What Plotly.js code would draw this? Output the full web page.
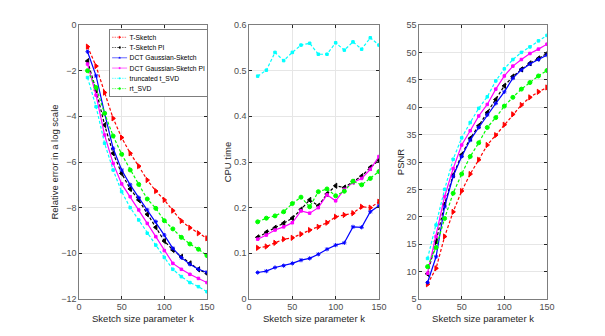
<!DOCTYPE html>
<html>
<head>
<meta charset="utf-8">
<script src="https://cdn.plot.ly/plotly-3.0.1.min.js"></script>
<style>
  html, body { margin: 0; padding: 0; background: #fff; }
  #graph { width: 605px; height: 336px; }
</style>
</head>
<body>
<div id="graph"></div>
<script>
const kValues = [10, 20, 30, 40, 50, 60, 70, 80, 90, 100, 110, 120, 130, 140, 150];

// relative error (log scale)
const errTSketch   = [-0.95, -1.8, -2.96, -4.09, -4.93, -5.62, -6.18, -6.79, -7.27, -7.66, -8.13, -8.58, -8.88, -9.12, -9.34];
const errTSketchPI = [-1.58, -2.85, -4.38, -5.62, -6.5, -7.18, -7.66, -8.29, -8.86, -9.46, -9.85, -10.15, -10.44, -10.7, -10.88];
const errDCT       = [-1.17, -2.23, -3.87, -5.4, -6.35, -7.0, -7.56, -8.1, -8.61, -9.2, -9.78, -10.19, -10.48, -10.7, -10.83];
const errDCTPI     = [-1.71, -3.07, -4.82, -6.06, -6.96, -7.52, -8.1, -8.69, -9.27, -9.88, -10.44, -10.7, -10.92, -11.1, -11.28];
const errTSVD      = [-2.3, -3.58, -5.18, -6.35, -7.3, -8.0, -8.54, -9.12, -9.64, -10.18, -10.7, -11.02, -11.28, -11.46, -11.68];
const errRTSVD     = [-2.0, -2.74, -3.87, -4.86, -5.66, -6.35, -6.98, -7.62, -8.03, -8.57, -8.93, -9.3, -9.59, -9.82, -10.1];

// CPU time
const cpuTSketch   = [0.112, 0.115, 0.123, 0.131, 0.134, 0.142, 0.151, 0.158, 0.167, 0.18, 0.184, 0.188, 0.202, 0.2, 0.213];
const cpuTSketchPI = [0.135, 0.146, 0.156, 0.166, 0.177, 0.196, 0.217, 0.204, 0.23, 0.248, 0.244, 0.257, 0.269, 0.288, 0.304];
const cpuDCT       = [0.058, 0.061, 0.069, 0.073, 0.078, 0.085, 0.089, 0.098, 0.109, 0.118, 0.123, 0.158, 0.157, 0.191, 0.204];
const cpuDCTPI     = [0.131, 0.14, 0.151, 0.158, 0.167, 0.193, 0.188, 0.2, 0.228, 0.215, 0.24, 0.255, 0.264, 0.284, 0.312];
const cpuTSVD      = [0.488, 0.501, 0.54, 0.522, 0.54, 0.556, 0.56, 0.536, 0.536, 0.561, 0.545, 0.563, 0.547, 0.572, 0.556];
const cpuRTSVD     = [0.169, 0.177, 0.182, 0.191, 0.209, 0.223, 0.202, 0.235, 0.241, 0.226, 0.236, 0.258, 0.25, 0.264, 0.279];

// PSNR
const psnrTSketch   = [7.7, 10.6, 16.4, 20.9, 24.7, 27.8, 30.4, 33.1, 34.9, 36.8, 38.7, 40.4, 41.8, 42.8, 43.6];
const psnrTSketchPI = [9.6, 15.5, 22.3, 27.6, 31.3, 34.3, 36.6, 39.0, 41.4, 43.9, 45.6, 46.9, 48.0, 48.9, 49.8];
const psnrDCT       = [8.0, 12.7, 21.8, 27.4, 31.0, 34.0, 36.3, 38.6, 40.7, 42.8, 45.3, 46.8, 47.9, 48.7, 49.5];
const psnrDCTPI     = [9.7, 16.4, 23.7, 28.8, 33.1, 35.7, 38.4, 40.5, 43.3, 45.7, 47.5, 48.7, 49.8, 50.6, 51.5];
const psnrTSVD      = [12.4, 18.5, 25.0, 30.5, 34.4, 37.2, 39.8, 41.9, 44.8, 47.0, 48.7, 50.0, 51.0, 52.1, 53.1];
const psnrRTSVD     = [10.9, 14.4, 19.7, 24.3, 27.8, 31.0, 33.5, 36.3, 38.1, 40.2, 41.8, 43.3, 44.5, 45.7, 46.7];

const methodNames = ['T-Sketch', 'T-Sketch PI', 'DCT Gaussian-Sketch', 'DCT Gaussian-Sketch PI', 'truncated t_SVD', 'rt_SVD'];

// style per method
const styles = [
    { color: '#ff0000', dash: '3px,2px', symbol: 'triangle-right', size: 4.5 },
    { color: '#000000', dash: '3px,2px', symbol: 'triangle-left',  size: 4.5 },
    { color: '#0000ff', dash: 'solid',   symbol: 'asterisk-open',  size: 3.5 },
    { color: '#ff00ff', dash: 'solid',   symbol: 'square',         size: 2.5 },
    { color: '#00ffff', dash: '3px,2px', symbol: 'square',         size: 2.5 },
    { color: '#00ff00', dash: '3px,2px', symbol: 'circle',         size: 4 }
];

const errData  = [errTSketch, errTSketchPI, errDCT, errDCTPI, errTSVD, errRTSVD];
const cpuData  = [cpuTSketch, cpuTSketchPI, cpuDCT, cpuDCTPI, cpuTSVD, cpuRTSVD];
const psnrData = [psnrTSketch, psnrTSketchPI, psnrDCT, psnrDCTPI, psnrTSVD, psnrRTSVD];

function makeTraces(data, axisNum, showLegend) {
    return data.map((ys, i) => {
        const st = styles[i];
        return {
            x: kValues,
            y: ys,
            type: 'scatter',
            mode: 'lines+markers',
            name: methodNames[i],
            showlegend: showLegend,
            xaxis: 'x' + (axisNum === 1 ? '' : axisNum),
            yaxis: 'y' + (axisNum === 1 ? '' : axisNum),
            line: { color: st.color, width: 1.2, dash: st.dash },
            marker: { color: st.color, symbol: st.symbol, size: st.size, line: { color: st.color, width: 1 } }
        };
    });
}

const traces = [
    ...makeTraces(errData, 1, true),
    ...makeTraces(cpuData, 2, false),
    ...makeTraces(psnrData, 3, false)
];

const tickFont = { family: 'Liberation Sans, Arial, sans-serif', size: 9, color: '#4d4d4d' };
const titleFont = { family: 'Liberation Sans, Arial, sans-serif', size: 9.5, color: '#262626' };

function xAxis(domain, anchor) {
    return {
        domain: domain,
        anchor: anchor,
        range: [0, 150],
        tickvals: [0, 50, 100, 150],
        ticks: 'inside',
        ticklen: 3,
        tickcolor: '#262626',
        showline: true,
        mirror: 'ticks',
        linecolor: '#262626',
        linewidth: 0.6,
        showgrid: true,
        gridcolor: '#e6e6e6',
        zeroline: false,
        tickfont: tickFont,
        title: { text: 'Sketch size parameter k', font: titleFont, standoff: 3 }
    };
}

function yAxis(range, dtick, title, anchor) {
    return {
        anchor: anchor,
        range: range,
        dtick: dtick,
        ticks: 'inside',
        ticklen: 3,
        tickcolor: '#262626',
        showline: true,
        mirror: 'ticks',
        linecolor: '#262626',
        linewidth: 0.6,
        showgrid: true,
        gridcolor: '#e6e6e6',
        zeroline: false,
        tickfont: tickFont,
        title: { text: title, font: titleFont, standoff: 0 }
    };
}

const layout = {
    width: 605,
    height: 336,
    paper_bgcolor: '#ffffff',
    plot_bgcolor: '#ffffff',
    margin: { l: 0, r: 0, t: 25, b: 37 },
    showlegend: true,
    legend: {
        x: 0.18, y: 0.985, xanchor: 'left', yanchor: 'top',
        bgcolor: '#ffffff',
        bordercolor: '#262626',
        borderwidth: 1.2,
        font: { family: 'Liberation Sans, Arial, sans-serif', size: 13.5, color: '#000' },
        tracegroupgap: 0,
        itemwidth: 30
    },
    xaxis: xAxis([0.1306, 0.3421], 'y'),
    yaxis: yAxis([-12, 0], 2, 'Relative error in a log scale', 'x'),
    xaxis2: xAxis([0.4116, 0.6264], 'y2'),
    yaxis2: yAxis([0, 0.6], 0.1, 'CPU time', 'x2'),
    xaxis3: xAxis([0.6926, 0.9041], 'y3'),
    yaxis3: yAxis([5, 55], 5, 'PSNR', 'x3')
};

Plotly.newPlot('graph', traces, layout, { displayModeBar: false, staticPlot: true }).then(() => {
    // shrink the legend to a MATLAB-like compact box
    const leg = document.querySelector('#graph .legend');
    if (leg) leg.setAttribute('transform', 'translate(109,29) scale(0.5)');
});
</script>
</body>
</html>
